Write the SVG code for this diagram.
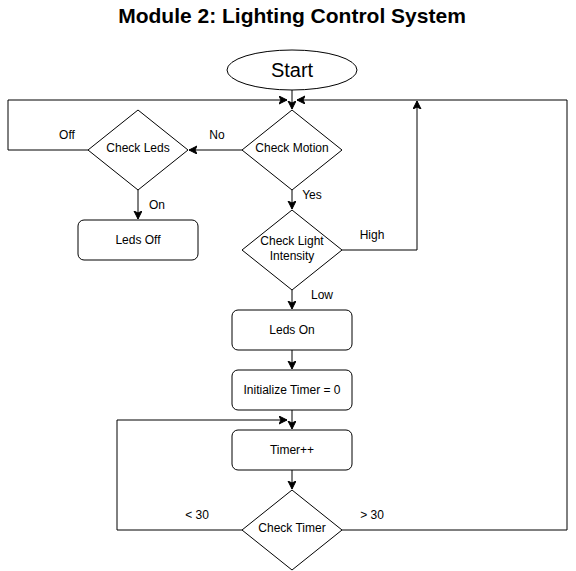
<svg xmlns="http://www.w3.org/2000/svg" width="576" height="571" viewBox="0 0 576 571">
<style>
.n{fill:#fff;stroke:#000;stroke-width:1}
.t{font-family:"Liberation Sans",Arial,sans-serif;font-size:12px;fill:#000;text-anchor:middle}
.l{font-family:"Liberation Sans",Arial,sans-serif;font-size:12px;fill:#000;text-anchor:middle}
.e{fill:none;stroke:#000;stroke-width:1}
</style>
<defs>
<marker id="a" markerWidth="10" markerHeight="10" refX="8" refY="4" orient="auto" markerUnits="userSpaceOnUse">
<path d="M0,0 L8,4 L0,8 L2,4 Z" fill="#000" stroke="#000" stroke-width="1"/>
</marker>
</defs>
<rect width="576" height="571" fill="#fff"/>
<text x="292" y="23" font-family="Liberation Sans,Arial,sans-serif" font-size="21" font-weight="bold" text-anchor="middle">Module 2: Lighting Control System</text>
<g id="edges">
<path class="e" d="M292,90 L292,109" marker-end="url(#a)"/>
<path class="e" d="M88,150 L8,150 L8,100 L287,100" marker-end="url(#a)"/>
<path class="e" d="M567,100 L297,100" marker-end="url(#a)"/>
<path class="e" d="M242,150 L189,150" marker-end="url(#a)"/>
<path class="e" d="M138,190 L138,219" marker-end="url(#a)"/>
<path class="e" d="M292,190 L292,209" marker-end="url(#a)"/>
<path class="e" d="M342,250 L417,250 L417,101" marker-end="url(#a)"/>
<path class="e" d="M292,290 L292,309" marker-end="url(#a)"/>
<path class="e" d="M292,350 L292,369" marker-end="url(#a)"/>
<path class="e" d="M292,410 L292,429" marker-end="url(#a)"/>
<path class="e" d="M242,530 L117,530 L117,420 L287,420" marker-end="url(#a)"/>
<path class="e" d="M292,470 L292,489" marker-end="url(#a)"/>
<path class="e" d="M342,530 L567,530 L567,100"/>
<text class="l" x="217" y="139">No</text>
<text class="l" x="67" y="139">Off</text>
<text class="l" x="157" y="209">On</text>
<text class="l" x="312" y="199">Yes</text>
<text class="l" x="372" y="239">High</text>
<text class="l" x="322" y="299">Low</text>
<text class="l" x="197" y="519">&lt; 30</text>
<text class="l" x="372" y="519">&gt; 30</text>
</g>
<g id="start">
<ellipse class="n" cx="292" cy="70" rx="65" ry="20"/>
<text x="292" y="77" font-family="Liberation Sans,Arial,sans-serif" font-size="20" text-anchor="middle">Start</text>
</g>
<g id="checkMotion">
<path class="n" d="M292,110 L342,150 L292,190 L242,150 Z"/>
<text class="t" x="292" y="152">Check Motion</text>
</g>
<g id="checkLeds">
<path class="n" d="M138,110 L188,150 L138,190 L88,150 Z"/>
<text class="t" x="138" y="152">Check Leds</text>
</g>
<g id="ledsOff">
<rect class="n" x="78" y="220" width="120" height="40" rx="6"/>
<text class="t" x="138" y="244">Leds Off</text>
</g>
<g id="checkLight">
<path class="n" d="M292,210 L342,250 L292,290 L242,250 Z"/>
<text class="t" x="292" y="245">Check Light</text>
<text class="t" x="292" y="260">Intensity</text>
</g>
<g id="ledsOn">
<rect class="n" x="232" y="310" width="120" height="40" rx="6"/>
<text class="t" x="292" y="334">Leds On</text>
</g>
<g id="initTimer">
<rect class="n" x="232" y="370" width="120" height="40" rx="6"/>
<text class="t" x="292" y="394">Initialize Timer = 0</text>
</g>
<g id="timerInc">
<rect class="n" x="232" y="430" width="120" height="40" rx="6"/>
<text class="t" x="292" y="454">Timer++</text>
</g>
<g id="checkTimer">
<path class="n" d="M292,490 L342,530 L292,570 L242,530 Z"/>
<text class="t" x="292" y="532">Check Timer</text>
</g>
</svg>
